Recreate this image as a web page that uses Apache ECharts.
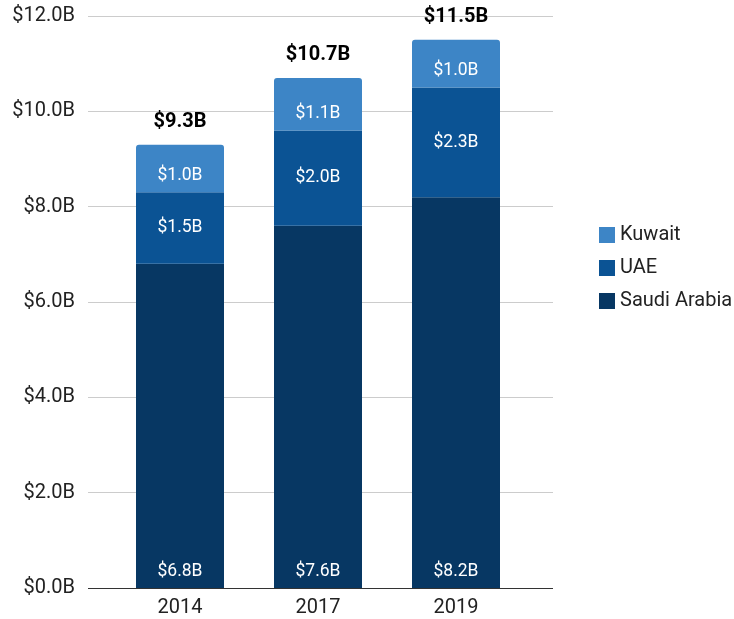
<!DOCTYPE html>
<html>
<head>
<meta charset="utf-8">
<script src="https://cdn.jsdelivr.net/npm/echarts@6/dist/echarts.min.js"></script>
<style>
  html, body { margin: 0; padding: 0; background: #fff; }
  #chart { width: 734px; height: 619px; }
</style>
</head>
<body>
<div id="chart"></div>
<script>
var years = ['2014', '2017', '2019'];
var saudiArabia = [6.8, 7.6, 8.2];
var uae = [1.5, 2.0, 2.3];
var kuwait = [1.0, 1.1, 1.0];
var yTicks = [0, 2, 4, 6, 8, 10, 12];

var chart = echarts.init(document.getElementById('chart'));

function money(v) {
    return '$' + v.toFixed(1) + 'B';
}

var totals = years.map(function(y, i) {
    return saudiArabia[i] + uae[i] + kuwait[i];
});

var font = 'Roboto, "Noto Sans", sans-serif';

chart.setOption({
    textStyle: { fontFamily: font },
    legend: {
        orient: 'vertical',
        left: 594,
        top: 220,
        itemWidth: 16,
        itemHeight: 16,
        itemGap: 13,
        icon: 'rect',
        data: ['Kuwait', 'UAE', 'Saudi Arabia'],
        textStyle: { fontSize: 20, color: '#222', fontFamily: font }
    },
    grid: [
        // wide grid only for the gridlines and the y labels
        { left: 88, right: 181, top: 16, bottom: 31 },
        // bar grid
        { left: 111, right: 209, top: 16, bottom: 31 }
    ],
    xAxis: [{
        gridIndex: 0,
        type: 'category',
        data: years,
        show: false
    }, {
        gridIndex: 1,
        type: 'category',
        data: years,
        axisLine: { show: false },
        axisTick: { show: false },
        axisLabel: { fontSize: 20, color: '#222', margin: 10, fontFamily: font }
    }],
    yAxis: [{
        gridIndex: 0,
        type: 'value',
        min: yTicks[0],
        max: yTicks[yTicks.length - 1],
        interval: 2,
        axisLine: { show: false },
        axisTick: { show: false },
        axisLabel: {
            fontSize: 20,
            color: '#222',
            margin: 13,
            fontFamily: font,
            formatter: function(v) { return money(v); }
        },
        splitLine: { lineStyle: { color: '#cccccc', width: 1 } }
    }, {
        gridIndex: 1,
        type: 'value',
        min: yTicks[0],
        max: yTicks[yTicks.length - 1],
        interval: 2,
        show: false
    }],
    series: [{
        // bottom axis line across the wide grid
        type: 'line',
        xAxisIndex: 0,
        yAxisIndex: 0,
        data: [],
        markLine: {
            silent: true,
            symbol: 'none',
            label: { show: false },
            lineStyle: { color: '#333', width: 1, type: 'solid' },
            data: [{ yAxis: 0 }]
        }
    }, {
        name: 'Saudi Arabia',
        type: 'bar',
        stack: 'total',
        xAxisIndex: 1,
        yAxisIndex: 1,
        barWidth: 88,
        itemStyle: { color: '#073763' },
        label: {
            show: true,
            position: 'insideBottom',
            distance: 7,
            color: '#fff',
            fontSize: 17.5,
            fontFamily: font,
            formatter: function(p) { return money(p.value); }
        },
        data: saudiArabia
    }, {
        name: 'UAE',
        type: 'bar',
        stack: 'total',
        xAxisIndex: 1,
        yAxisIndex: 1,
        itemStyle: { color: '#0b5394' },
        label: {
            show: true,
            position: 'inside',
            color: '#fff',
            fontSize: 17.5,
            fontFamily: font,
            formatter: function(p) { return money(p.value); }
        },
        data: uae
    }, {
        name: 'Kuwait',
        type: 'bar',
        stack: 'total',
        xAxisIndex: 1,
        yAxisIndex: 1,
        itemStyle: { color: '#3d85c6', borderRadius: [3, 3, 0, 0] },
        label: {
            show: true,
            position: 'insideBottom',
            distance: 8,
            color: '#fff',
            fontSize: 17.5,
            fontFamily: font,
            formatter: function(p) { return money(p.value); }
        },
        data: kuwait
    }, {
        // zero-height bar on top of the stack carries the total label
        name: 'total',
        type: 'bar',
        stack: 'total',
        xAxisIndex: 1,
        yAxisIndex: 1,
        itemStyle: { color: 'transparent' },
        label: {
            show: true,
            position: 'top',
            distance: 13,
            color: '#000',
            fontSize: 20,
            fontWeight: 'bold',
            fontFamily: font,
            formatter: function(p) { return money(totals[p.dataIndex]); }
        },
        data: years.map(function() { return 0; })
    }]
});
</script>
</body>
</html>
